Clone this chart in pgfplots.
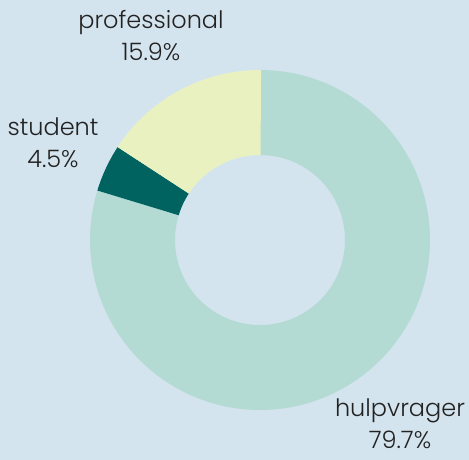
\documentclass[border=0pt]{standalone}
\usepackage{pgfplots}
\pgfplotsset{compat=1.18}
\usepackage{pgfplotstable}
\usepackage{fontspec}
\setmainfont{Poppins}[UprightFont=* Light]
\definecolor{bg}{HTML}{D4E4EE}
\definecolor{cH}{HTML}{B3DBD3}
\definecolor{cS}{HTML}{006360}
\definecolor{cP}{HTML}{EAF1C1}
\definecolor{txt}{HTML}{222222}
\pgfplotstableread{
name        pct   col  lx   ly
hulpvrager  79.7  cH   400  36
student     4.5   cS   53   317
professional 15.9 cP   151  424
}\datatable
\begin{document}
\begin{tikzpicture}
\begin{axis}[x=1pt,y=1pt,xmin=0,xmax=469,ymin=0,ymax=460,hide axis,
  scale only axis,clip=false,disabledatascaling,
  axis background/.style={fill=bg}]
\addplot[draw=none,fill=bg] coordinates {(0,0)(469,0)(469,460)(0,460)} -- cycle;
\pgfplotstablegetrowsof{\datatable}
\pgfmathtruncatemacro{\nrows}{\pgfplotsretval-1}
\def\cx{260}\def\cy{220}\def\ro{170}\def\ri{85}
\gdef\startang{90}
\pgfplotsforeachungrouped \i in {0,...,\nrows}{
  \pgfplotstablegetelem{\i}{pct}\of{\datatable}\let\pct\pgfplotsretval
  \pgfplotstablegetelem{\i}{col}\of{\datatable}\let\col\pgfplotsretval
  \pgfplotstablegetelem{\i}{name}\of{\datatable}\let\nm\pgfplotsretval
  \pgfplotstablegetelem{\i}{lx}\of{\datatable}\let\lx\pgfplotsretval
  \pgfplotstablegetelem{\i}{ly}\of{\datatable}\let\ly\pgfplotsretval
  \pgfmathsetmacro{\endang}{\startang-3.6*\pct}
  \edef\temp{\noexpand\fill[\col] (axis cs:{\cx+\ro*cos(\startang)},{\cy+\ro*sin(\startang)}) arc[start angle=\startang,end angle=\endang,radius=\ro pt] -- (axis cs:{\cx+\ri*cos(\endang)},{\cy+\ri*sin(\endang)}) arc[start angle=\endang,end angle=\startang,radius=\ri pt] -- cycle;
  \noexpand\node[align=center,text=txt,inner sep=0pt,font=\noexpand\fontsize{24}{32}\noexpand\selectfont] at (axis cs:\lx,\ly) {\nm\noexpand\\\pct\noexpand\%};}
  \temp
  \xdef\startang{\endang}
}
\end{axis}
\end{tikzpicture}
\end{document}
